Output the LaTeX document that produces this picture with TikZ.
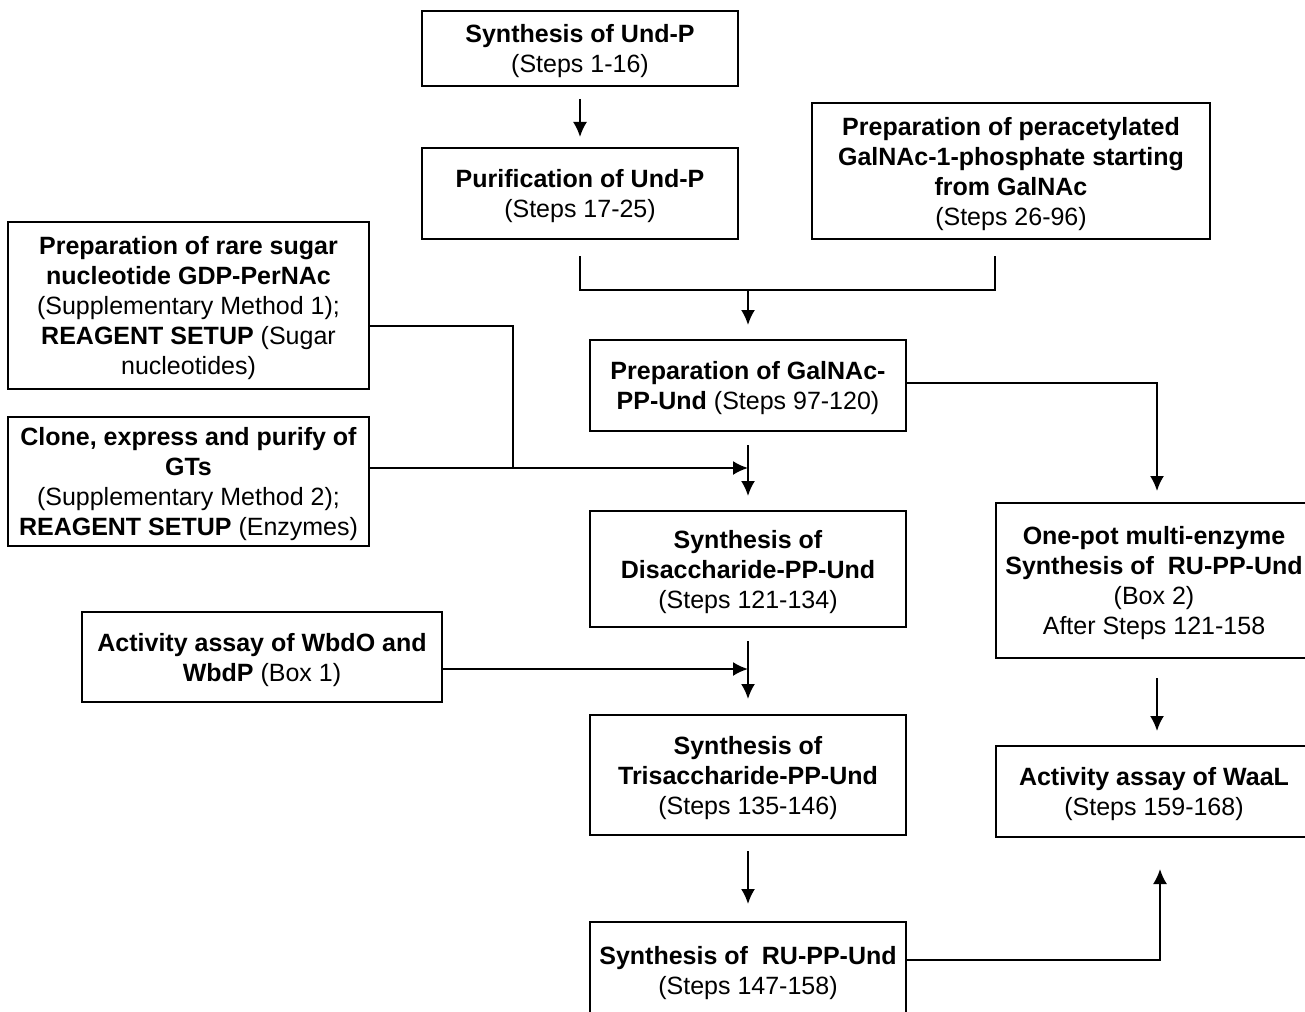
\documentclass[tikz,border=0pt]{standalone}
\usepackage{fontspec}
\setmainfont{Liberation Sans}
\usetikzlibrary{arrows.meta}

\begin{document}
\begin{tikzpicture}[x=0.5pt, y=-0.5pt, line width=1pt, >={Latex[length=7.5pt,width=7pt]},
    stepbox/.style={draw, align=center, inner sep=0pt, text depth=-1.5pt,
        font=\fontsize{12.5}{15}\selectfont},
    flow/.style={->, shorten <=6pt, shorten >=6pt}]
    \clip (0,0) rectangle (1305,1011);

    \node[stepbox, minimum width=158pt, minimum height=37.5pt] (undp) at (580,48.5)
        {\textbf{Synthesis of Und-P}\\(Steps 1-16)};
    \node[stepbox, minimum width=158pt, minimum height=45.5pt] (purif) at (580,193.5)
        {\textbf{Purification of Und-P}\\(Steps 17-25)};
    \node[stepbox, minimum width=199pt, minimum height=68pt] (peracet) at (1011,171)
        {\textbf{Preparation of peracetylated}\\\textbf{GalNAc-1-phosphate starting}\\\textbf{from GalNAc}\\(Steps 26-96)};
    \node[stepbox, minimum width=180.5pt, minimum height=83.5pt] (rare) at (188.5,305.5)
        {\textbf{Preparation of rare sugar}\\\textbf{nucleotide GDP-PerNAc}\\(Supplementary Method 1);\\\textbf{REAGENT SETUP} (Sugar\\nucleotides)};
    \node[stepbox, minimum width=180.5pt, minimum height=64.5pt] (clone) at (188.5,481.5)
        {\textbf{Clone, express and purify of}\\\textbf{GTs}\\(Supplementary Method 2);\\\textbf{REAGENT SETUP} (Enzymes)};
    \node[stepbox, minimum width=158pt, minimum height=45.5pt] (galnac) at (748,385.5)
        {\textbf{Preparation of GalNAc-}\\\textbf{PP-Und} (Steps 97-120)};
    \node[stepbox, minimum width=158pt, minimum height=58pt] (disacch) at (748,569)
        {\textbf{Synthesis of}\\\textbf{Disaccharide-PP-Und}\\(Steps 121-134)};
    \node[stepbox, minimum width=180pt, minimum height=45pt] (wbdo) at (262,657)
        {\textbf{Activity assay of WbdO and}\\\textbf{WbdP} (Box 1)};
    \node[stepbox, minimum width=158pt, minimum height=60pt] (trisacch) at (748,775)
        {\textbf{Synthesis of}\\\textbf{Trisaccharide-PP-Und}\\(Steps 135-146)};
    \node[stepbox, minimum width=158pt, minimum height=48pt] (ru) at (748,970)
        {\textbf{Synthesis of\ \ RU-PP-Und}\\(Steps 147-158)};
    \node[stepbox, minimum width=158pt, minimum height=77.5pt] (onepot) at (1154,580.5)
        {\textbf{One-pot multi-enzyme}\\\textbf{Synthesis of\ \ RU-PP-Und}\\(Box 2)\\After Steps 121-158};
    \node[stepbox, minimum width=158pt, minimum height=45.5pt] (waal) at (1154,791.5)
        {\textbf{Activity assay of WaaL}\\(Steps 159-168)};

    \coordinate (join) at (748,290);
    \coordinate (bend) at (513,468);
    \coordinate (meet) at (748,468);
    \coordinate (meet2) at (748,669);

    \draw[flow, shorten >=5pt] (undp) -- (purif);
    \draw ([yshift=-8pt]purif.south) |- (join) -| ([xshift=-8pt,yshift=-8pt]peracet.south);
    \draw[->, shorten >=7pt] (join) -- (galnac.north);
    \draw ([yshift=-10.25pt]rare.east) -| (bend);
    \draw[->] ([yshift=6.75pt]clone.east) -- (meet);
    \draw[flow, shorten <=6.5pt, shorten >=7pt] (galnac) -- (disacch);
    \draw[->, shorten >=5.5pt] ([yshift=1.25pt]galnac.east) -| ([xshift=1.5pt]onepot.north);
    \draw[->] ([yshift=-6pt]wbdo.east) -- (meet2);
    \draw[flow, shorten <=6.5pt, shorten >=7.5pt] (disacch) -- (trisacch);
    \draw[flow, shorten <=7.5pt, shorten >=8.5pt] (trisacch) -- (ru);
    \draw[flow, shorten <=9.5pt, shorten >=7pt] ([xshift=1.5pt]onepot.south) -- ([xshift=1.5pt]waal.north);
    \draw[->, shorten >=15.5pt] ([yshift=5pt]ru.east) -| ([xshift=3pt]waal.south);
\end{tikzpicture}
\end{document}
